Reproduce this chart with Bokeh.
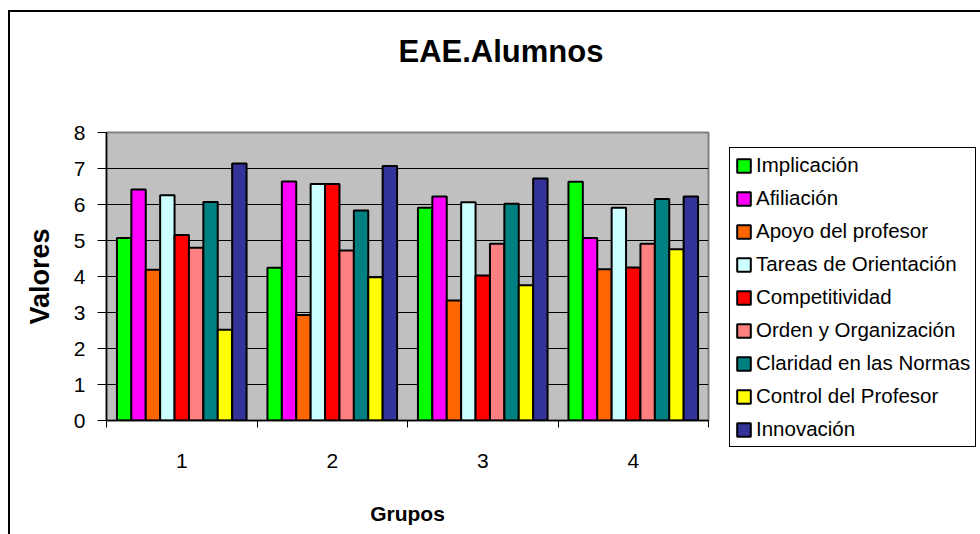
from bokeh.plotting import figure
from bokeh.models import (Range1d, FixedTicker, Legend, LegendItem, InlineStyleSheet, Title)
from bokeh.embed import file_html
from bokeh.resources import INLINE

# ---- data ----
groups = ["1", "2", "3", "4"]
series_names = ["Implicación", "Afiliación", "Apoyo del profesor", "Tareas de Orientación",
                "Competitividad", "Orden y Organización", "Claridad en las Normas",
                "Control del Profesor", "Innovación"]
implicacion = [5.07, 4.24, 5.91, 6.63]
afiliacion = [6.42, 6.64, 6.22, 5.07]
apoyo = [4.19, 2.93, 3.33, 4.20]
tareas = [6.26, 6.57, 6.06, 5.91]
competitividad = [5.15, 6.57, 4.03, 4.25]
orden = [4.80, 4.72, 4.91, 4.91]
claridad = [6.07, 5.83, 6.02, 6.15]
control = [2.52, 3.98, 3.76, 4.76]
innovacion = [7.14, 7.07, 6.72, 6.22]
y_ticks = [0, 1, 2, 3, 4, 5, 6, 7, 8]

series_values = [implicacion, afiliacion, apoyo, tareas, competitividad,
                 orden, claridad, control, innovacion]
colors = ["#00FF00", "#FF00FF", "#FF6600", "#CCFFFF", "#FF0000",
          "#FF8080", "#008080", "#FFFF00", "#333399"]

FONT = "Liberation Sans"

css = (":host { background: "
       "linear-gradient(#000,#000) 8px 10px / 2px 100% no-repeat, "
       "linear-gradient(#000,#000) 8px 10px / 100% 2px no-repeat, #fff; }")

p = figure(frame_width=602, frame_height=288, output_backend="svg", toolbar_location=None,
           x_range=Range1d(0, len(groups)), y_range=Range1d(0, 8),
           min_border_left=106, min_border_right=272, min_border_top=132,
           min_border_bottom=114, stylesheets=[InlineStyleSheet(css=css)])
p.background_fill_color = "#C0C0C0"
p.border_fill_color = None
p.outline_line_color = "#808080"
p.outline_line_width = 2

# white spacer between the frame and the title
spacer = Title(text=".", text_font_size="10px", text_color="white", standoff=54)
p.add_layout(spacer, "above")

p.title.text = "EAE.Alumnos"
p.title.text_font = FONT
p.title.text_font_style = "bold"
p.title.text_font_size = "31px"
p.title.text_color = "black"
p.title.align = "left"
p.title.offset = 292
p.title.vertical_align = "bottom"
p.title.standoff = 0

bar_w = 0.0957
centers = [i + 0.5 for i in range(len(groups))]
items = []
for k, (name, vals, col) in enumerate(zip(series_names, series_values, colors)):
    xs = [c + (k - 4) * bar_w for c in centers]
    r = p.vbar(x=xs, top=vals, width=bar_w, bottom=0, fill_color=col,
               line_color="black", line_width=2)
    items.append(LegendItem(label=name, renderers=[r]))

# axes
xa = p.xaxis[0]
xa.ticker = FixedTicker(ticks=centers, minor_ticks=list(range(len(groups) + 1)))
xa.major_label_overrides = {c: g for c, g in zip(centers, groups)}
xa.major_tick_out = 0
xa.major_tick_in = 0
xa.minor_tick_out = 7
xa.minor_tick_in = 0
xa.minor_tick_line_color = "black"
xa.axis_line_color = "black"
xa.axis_line_width = 1.5
xa.major_label_text_font = FONT
xa.major_label_text_font_size = "21px"
xa.major_label_text_color = "black"
xa.major_label_standoff = 26
xa.axis_label = "Grupos"
xa.axis_label_text_font = FONT
xa.axis_label_text_font_style = "bold"
xa.axis_label_text_font_size = "21px"
xa.axis_label_text_color = "black"
xa.axis_label_standoff = 31

ya = p.yaxis[0]
ya.ticker = FixedTicker(ticks=y_ticks, minor_ticks=[])
ya.major_tick_out = 9
ya.major_tick_in = 0
ya.major_tick_line_color = "black"
ya.axis_line_color = "black"
ya.axis_line_width = 1.5
ya.major_label_text_font = FONT
ya.major_label_text_font_size = "21px"
ya.major_label_text_color = "black"
ya.major_label_standoff = 12
ya.axis_label = "Valores"
ya.axis_label_text_font = FONT
ya.axis_label_text_font_style = "bold"
ya.axis_label_text_font_size = "27px"
ya.axis_label_text_color = "black"
ya.axis_label_standoff = 16

p.xgrid.grid_line_color = None
p.ygrid.ticker = FixedTicker(ticks=y_ticks)
p.ygrid.grid_line_color = "black"
p.ygrid.grid_line_width = 1

legend = Legend(items=items, location=(21, -27), orientation="vertical",
                label_text_font=FONT, label_text_font_size="20.5px",
                label_text_color="black",
                glyph_width=17, glyph_height=17, label_height=20,
                label_standoff=4, spacing=9, padding=5, margin=0,
                border_line_color="black", border_line_width=1, border_line_alpha=1,
                background_fill_color="white", background_fill_alpha=1)
p.add_layout(legend, "right")

open("out.html", "w").write(file_html(p, INLINE))
